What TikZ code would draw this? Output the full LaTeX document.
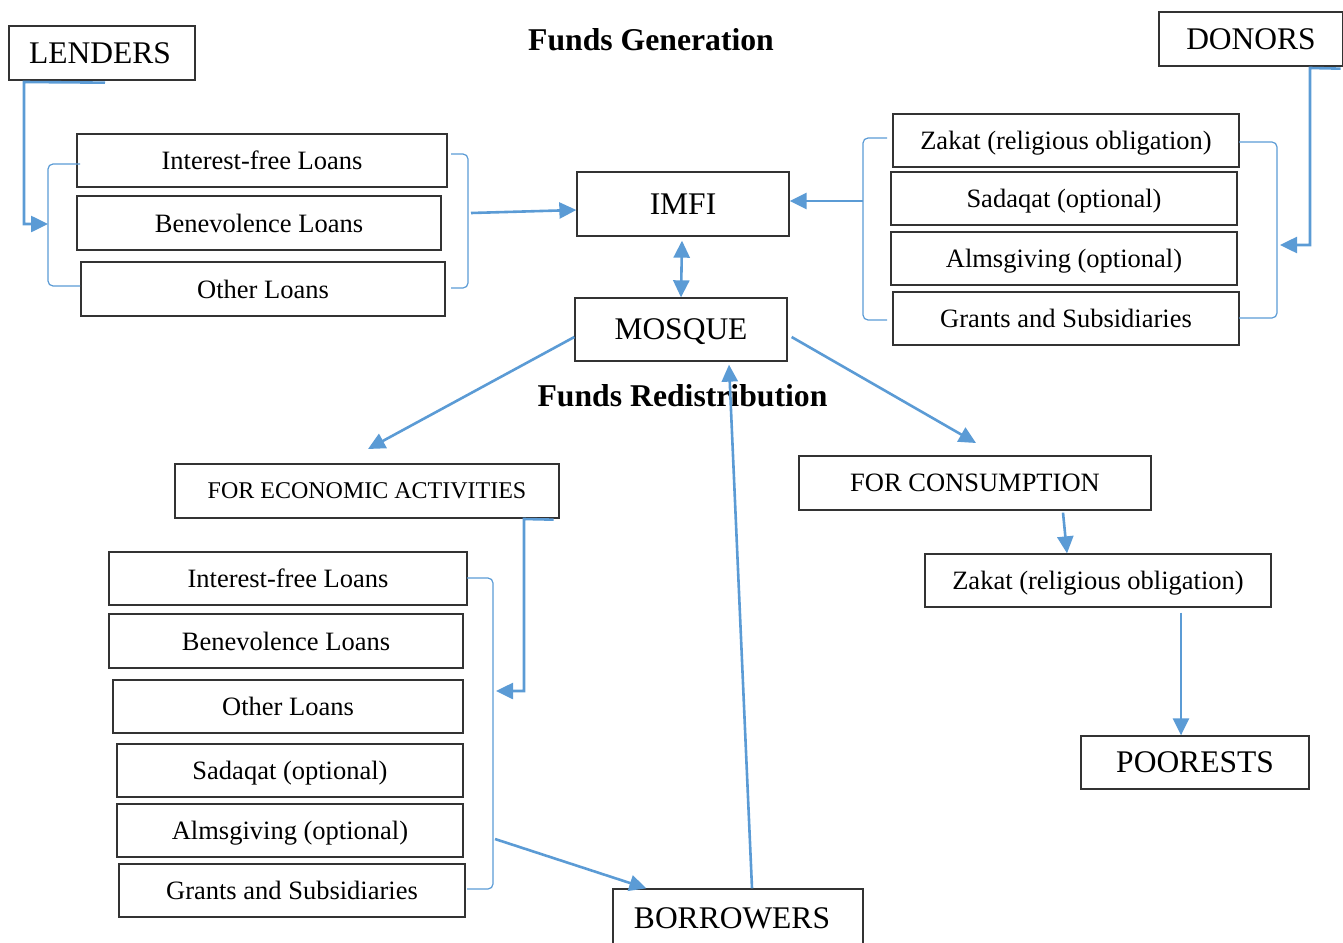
\documentclass[tikz,border=0pt]{standalone}
\usepackage{fontspec}
\setmainfont{Liberation Serif}
\usetikzlibrary{arrows.meta}
\definecolor{flow}{HTML}{5B9BD5}
\definecolor{edge}{HTML}{333333}
\tikzset{
  box/.style={draw=edge, line width=1.3pt, inner sep=0pt, align=center, fill=white, text depth=0pt},
  big/.style={font=\fontsize{31.5}{36}\selectfont},
  item/.style={font=\fontsize{26.5}{30}\selectfont},
  small/.style={font=\fontsize{24}{28}\selectfont},
  title/.style={font=\fontsize{31.7}{36}\selectfont\bfseries, inner sep=0pt},
  flowarrow/.style={draw=flow, line width=2.6pt, -{Triangle[length=17pt 0 1,width=16pt 0 1]}},
  twoway/.style={draw=flow, line width=2.6pt, {Triangle[length=17pt 0 1,width=16pt 0 1]}-{Triangle[length=17pt 0 1,width=16pt 0 1]}},
  brace/.style={draw=flow, line width=1.2pt, rounded corners=5pt},
}
\begin{document}
\begin{tikzpicture}[x=1pt,y=-1pt]
\useasboundingbox (0,0) rectangle (1343,942);
\clip (0,0) rectangle (1343,942);

% titles
\node[title] (gen) at (651,40) {Funds Generation};
\node[title] (redis) at (682.5,396) {Funds Redistribution};

% sources
\node[box,big,minimum width=186pt,minimum height=54pt] (lenders) at (102,53) {\hspace*{-4pt}LENDERS};
\node[box,big,minimum width=184pt,minimum height=54pt] (donors) at (1251,39) {DONORS};

% central nodes
\node[box,big,minimum width=212pt,minimum height=64pt] (imfi) at (683,204) {IMFI};
\node[box,big,minimum width=212pt,minimum height=63pt] (mosque) at (681,329.5) {MOSQUE};

% loans from lenders
\node[box,item,minimum width=370pt,minimum height=53pt] (lif) at (262,160.5) {Interest-free Loans};
\node[box,item,minimum width=364pt,minimum height=54pt] (lbl) at (259,223) {Benevolence Loans};
\node[box,item,minimum width=364pt,minimum height=54pt] (lol) at (263,289) {Other Loans};

% funds from donors
\node[box,item,minimum width=346pt,minimum height=53pt] (rz) at (1066,140.5) {Zakat (religious obligation)};
\node[box,item,minimum width=346pt,minimum height=53pt] (rs) at (1064,198.5) {Sadaqat (optional)};
\node[box,item,minimum width=346pt,minimum height=53pt] (ra) at (1064,258.5) {Almsgiving (optional)};
\node[box,item,minimum width=346pt,minimum height=53pt] (rg) at (1066,318.5) {Grants and Subsidiaries};

% redistribution
\node[box,small,minimum width=384pt,minimum height=54pt] (foreco) at (367,491) {FOR ECONOMIC ACTIVITIES};
\node[box,item,minimum width=352pt,minimum height=54pt] (forcons) at (975,483) {FOR CONSUMPTION};
\node[box,item,minimum width=346pt,minimum height=53pt] (bz) at (1098,580.5) {Zakat (religious obligation)};
\node[box,big,minimum width=228pt,minimum height=53pt] (poor) at (1195,762.5) {POORESTS};

\node[box,item,minimum width=358pt,minimum height=53pt] (bif) at (288,578.5) {Interest-free Loans};
\node[box,item,minimum width=354pt,minimum height=54pt] (bbl) at (286,641) {Benevolence Loans};
\node[box,item,minimum width=350pt,minimum height=53pt] (bol) at (288,706.5) {Other Loans};
\node[box,item,minimum width=346pt,minimum height=53pt] (bsd) at (290,770.5) {Sadaqat (optional)};
\node[box,item,minimum width=346pt,minimum height=53pt] (bal) at (290,830.5) {Almsgiving (optional)};
\node[box,item,minimum width=346pt,minimum height=53pt] (bgr) at (292,890.5) {Grants and Subsidiaries};

\node[box,big,minimum width=250pt,minimum height=59pt] (borrow) at (738,918.5) {\hspace*{-12pt}BORROWERS};

% bracket points and free arrow ends
\coordinate (lbrL) at (48,224);
\coordinate (lbrR) at (471,213);
\coordinate (rbrL) at (863,201);
\coordinate (rbrR) at (1280,245);
\coordinate (bbrIn) at (496,691);
\coordinate (bbrOut) at (495,839);
\coordinate (ecoTip) at (368,449);
\coordinate (consTip) at (976,443);

% brackets grouping the lists
\draw[brace] (80,164) -- (48,164) -- (48,286) -- (80,286);
\draw[brace] (451,154) -- (468,154) -- (468,288) -- (451,288);
\draw[brace] (887,138) -- (863,138) -- (863,320) -- (887,320);
\draw[brace] (1239,142) -- (1277,142) -- (1277,318) -- (1239,318);
\draw[brace] (467,578) -- (493,578) -- (493,889) -- (467,889);

% funds generation flows
\draw[flowarrow] ([xshift=3pt,yshift=-2pt]lenders.south) -- (24,82) -- (24,224) -- (lbrL);
\draw[flowarrow] (lbrR) -- ([yshift=-6pt]imfi.west);
\draw[flowarrow] ([xshift=-3pt,yshift=-2pt]donors.south east) -- (1310,68) -- (1310,245) -- (rbrR);
\draw[flowarrow] (rbrL) -- ([yshift=3pt]imfi.east);
\draw[twoway] ([xshift=-1pt,yshift=-4pt]imfi.south) -- (mosque.north);

% redistribution flows
\draw[flowarrow] ([yshift=-7.5pt]mosque.west) -- (ecoTip);
\draw[flowarrow] ([xshift=4pt,yshift=-7.5pt]mosque.east) -- (consTip);
\draw[flowarrow] ([xshift=88pt,yshift=-2pt]forcons.south) -- ([xshift=-31pt]bz.north);
\draw[flowarrow] ([xshift=83pt,yshift=-5pt]bz.south) -- ([xshift=-14pt]poor.north);
\draw[flowarrow] ([xshift=-6pt,yshift=-1pt]foreco.south east) -- (524,519) -- (524,691) -- (bbrIn);
\draw[flowarrow] (bbrOut) -- ([xshift=34pt]borrow.north west);
\draw[flowarrow] ([xshift=14pt]borrow.north) -- ([xshift=48pt,yshift=-3pt]mosque.south);
\end{tikzpicture}
\end{document}
